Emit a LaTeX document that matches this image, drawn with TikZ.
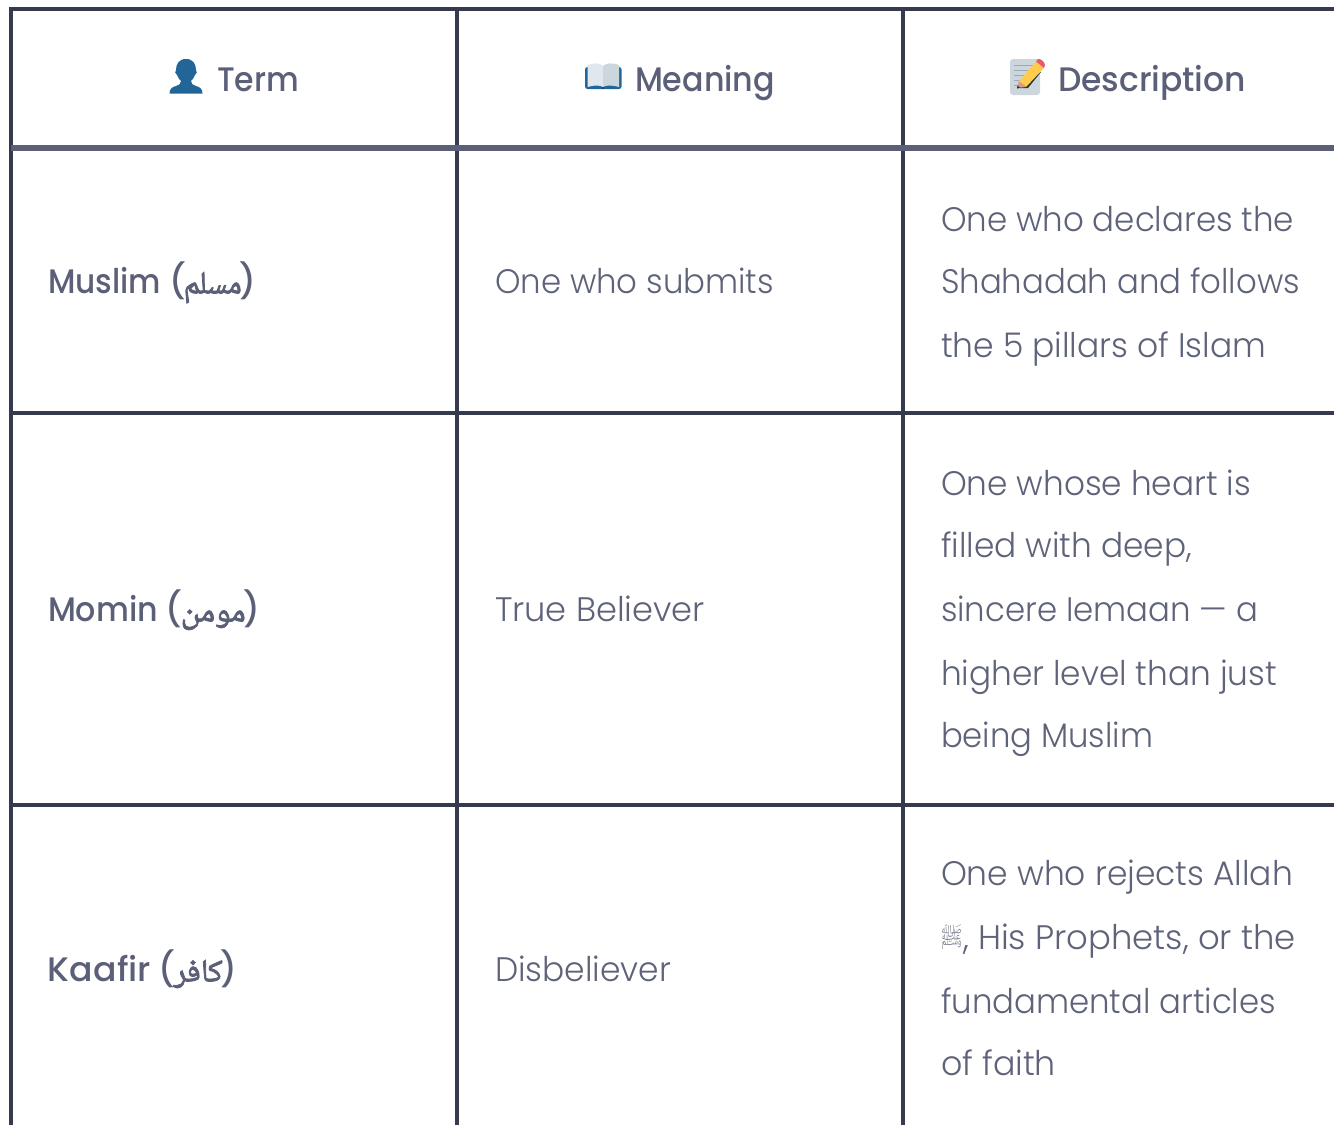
\documentclass[tikz,border=0pt]{standalone}
\usepackage{graphicx}
\usepackage{fontspec}
\TeXXeTstate=1
\setmainfont{Poppins Light}
\newfontfamily\medfont{Poppins Medium}
\newfontfamily\arabicbold[Script=Arabic,FakeBold=2.5]{Noto Naskh Arabic}
\newfontfamily\arabicplain[Script=Arabic]{Noto Naskh Arabic}
\definecolor{gridc}{HTML}{363A4F}
\definecolor{headc}{HTML}{5B6078}
\definecolor{bodyc}{HTML}{5F637A}
\definecolor{salc}{HTML}{7C8090}
\definecolor{twblue}{HTML}{226699}
\definecolor{pagea}{HTML}{E1E8ED}
\definecolor{pageb}{HTML}{CCD6DD}
\definecolor{lineg}{HTML}{99AAB5}
\definecolor{pencily}{HTML}{FFCC4D}
\definecolor{pencilr}{HTML}{EA596E}
\definecolor{pencilt}{HTML}{D99E82}
\definecolor{pencild}{HTML}{292F33}
\newcommand{\fitw}[2]{\resizebox{#1pt}{\height}{#2}}
\newcommand{\ar}[1]{{\arabicbold\fontsize{32}{32}\selectfont\beginR #1\endR}}
\newcommand{\termline}[6]{\fitw{#1}{#2}\hspace{#3pt}(\hspace{-2pt}\fitw{#4}{\ar{#5}}\hspace{#6pt})}
\tikzset{
  gridline/.style={draw=gridc,line width=3.8pt},
  headline/.style={draw=headc,line width=6pt},
  bodytext/.style={anchor=base west,inner sep=0pt,outer sep=0pt,text=bodyc,font=\fontsize{34}{34}\selectfont},
  strongtext/.style={anchor=base west,inner sep=0pt,outer sep=0pt,text=headc,font=\medfont\fontsize{34}{34}\selectfont},
}
\begin{document}
\begin{tikzpicture}[x=1pt,y=-1pt]
\useasboundingbox (0,0) rectangle (1334,1125);
% grid
\draw[gridline] (9.1,9) -- (1334,9);
\draw[gridline] (11,7.1) -- (11,1125);
\draw[gridline] (457,9) -- (457,1125);
\draw[gridline] (903,9) -- (903,1125);
\draw[gridline] (11,412.8) -- (1334,412.8);
\draw[gridline] (11,804.8) -- (1334,804.8);
\draw[headline] (11,148) -- (1334,148);
% person icon
\fill[twblue] (186,59) .. controls (179,59) and (176,64) .. (176,70)
  .. controls (174.5,71) and (175,74) .. (177,75)
  .. controls (178,78) and (180,80) .. (181,81)
  .. controls (181,84) and (179,85) .. (176,86)
  .. controls (172,87) and (169.5,89) .. (169.5,93.5) -- (202.5,93.5)
  .. controls (202.5,89) and (200,87) .. (196,86)
  .. controls (193,85) and (191,84) .. (191,81)
  .. controls (192,80) and (194,78) .. (195,75)
  .. controls (197,74) and (197.5,71) .. (196,70)
  .. controls (196,64) and (193,59) .. (186,59) -- cycle;
% book icon
\fill[twblue,rounded corners=2.5pt] (585,67) rectangle (621.5,89);
\fill[pagea] (587.5,65) .. controls (594,62.5) and (600,63) .. (603,66) -- (603,87)
  .. controls (600,85) and (594,85) .. (587.5,87) -- cycle;
\fill[pageb] (619,65) .. controls (612,62.5) and (606,63) .. (603,66) -- (603,87)
  .. controls (606,85) and (612,85) .. (619,87) -- cycle;
\fill[gridc] (602,86.5) rectangle (604,89);
% memo icon
\fill[pageb,rounded corners=3pt] (1010,59) rectangle (1040,95);
\foreach \yy/\xe in {65/1034,70/1032,75/1028,80/1024,85/1020}
  \draw[lineg,line width=1pt] (1014,\yy) -- (\xe,\yy);
\fill[pencild] (1017,88) -- (1028,88) -- (1041,72) -- (1036,70) -- cycle;
\fill[pencily] (1019,81) -- (1036,61.5) -- (1044,68) -- (1026,87) -- cycle;
\fill[pencilr] (1036,61.5) -- (1038,59) .. controls (1040,58) and (1045,62) .. (1045,65) -- (1044,68) -- cycle;
\fill[pencilt] (1019,81) -- (1026,87) -- (1017,88) -- cycle;
\fill[pencild] (1017.5,85.5) -- (1020,87.6) -- (1017,88.5) -- cycle;
% header text
\node[strongtext] (h1) at (217,91) {\fitw{82}{Term}};
\node[strongtext] (h2) at (635,91) {\fitw{140}{Meaning}};
\node[strongtext] (h3) at (1058,91) {\fitw{188}{Description}};
% first column
\node[strongtext] (t1) at (48,293.5) {\termline{113}{Muslim}{8}{58}{مسلم}{-2}};
\node[strongtext] (t2) at (48,621.5) {\termline{110}{Momin}{8}{65}{مومن}{-2}};
\node[strongtext] (t3) at (48,981.5) {\termline{103}{Kaafir}{8}{49}{كافر}{-2}};
% second column
\node[bodytext] (m1) at (495,293.5) {\fitw{279}{One who submits}};
\node[bodytext] (m2) at (495,621.5) {\fitw{210}{True Believer}};
\node[bodytext] (m3) at (495,981.5) {\fitw{176}{Disbeliever}};
% third column
\node[bodytext] (d1) at (941,231.5) {\fitw{353}{One who declares the}};
\node[bodytext] (d2) at (941,293.5) {\fitw{359}{Shahadah and follows}};
\node[bodytext] (d3) at (941,357.5) {\fitw{325}{the 5 pillars of Islam}};
\node[bodytext] (d4) at (941,495.5) {\fitw{310}{One whose heart is}};
\node[bodytext] (d5) at (941,557.5) {\fitw{251}{filled with deep,}};
\node[bodytext] (d6) at (941,621.5) {\fitw{317}{sincere Iemaan — a}};
\node[bodytext] (d7) at (941,685.5) {\fitw{336}{higher level than just}};
\node[bodytext] (d8) at (941,747.5) {\fitw{212}{being Muslim}};
\node[bodytext] (d9) at (941,885.5) {\fitw{352}{One who rejects Allah}};
\node[bodytext,font=\arabicplain\fontsize{24}{24}\selectfont,text=salc] (d10a) at (941,945) {\fitw{21}{ﷺ}};
\node[bodytext] (d10) at (963,949.5) {\fitw{333}{, His Prophets, or the}};
\node[bodytext] (d11) at (941,1013.5) {\fitw{335}{fundamental articles}};
\node[bodytext] (d12) at (941,1075.5) {\fitw{115}{of faith}};
\end{tikzpicture}
\end{document}
